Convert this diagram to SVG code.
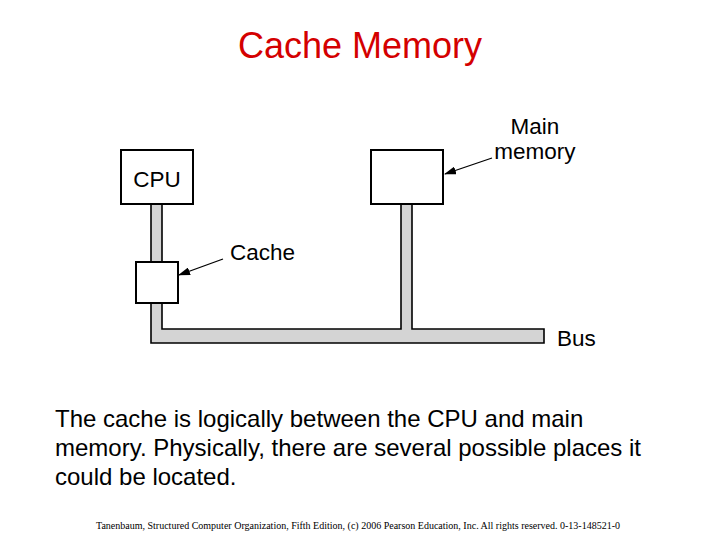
<svg xmlns="http://www.w3.org/2000/svg" width="720" height="540" viewBox="0 0 720 540">
<style>
.box{fill:#fff;stroke:#000;stroke-width:2}
.bus{fill:#d4d4d4;stroke:#000;stroke-width:1.6}
.lbl{font-family:"Liberation Sans",Arial,sans-serif;font-size:22.5px;fill:#000}
.arr{stroke:#000;stroke-width:1.3;fill:none}
.body{font-family:"Liberation Sans",Arial,sans-serif;font-size:24px;fill:#000}
</style>
<defs>
<marker id="ah" markerWidth="12" markerHeight="8" refX="11" refY="4" orient="auto" markerUnits="userSpaceOnUse">
<path d="M0,0 L12,4 L0,8 Z" fill="#000"/>
</marker>
</defs>
<rect width="720" height="540" fill="#fff"/>
<text x="360" y="58" text-anchor="middle" font-family="'Liberation Sans',Arial,sans-serif" font-size="36" fill="#d40000">Cache Memory</text>
<g id="connectors">
<path class="bus" d="M151,204 V343 H544 V329 H412 V204 H401 V329 H162 V204 Z"/>
<line class="arr" x1="223" y1="259" x2="179" y2="275" marker-end="url(#ah)"/>
<line class="arr" x1="492" y1="158" x2="445" y2="174" marker-end="url(#ah)"/>
</g>
<g id="cpu">
<rect class="box" x="121" y="150" width="72" height="54"/>
<text class="lbl" x="157" y="187" text-anchor="middle">CPU</text>
</g>
<g id="cache">
<rect class="box" x="136" y="262" width="42" height="41"/>
<text class="lbl" x="230" y="260">Cache</text>
</g>
<g id="main-memory">
<rect class="box" x="371" y="150" width="72" height="54"/>
<text class="lbl" x="535" y="134" text-anchor="middle">Main</text>
<text class="lbl" x="535" y="159" text-anchor="middle">memory</text>
</g>
<g id="bus">
<text class="lbl" x="557" y="346" font-size="23">Bus</text>
</g>
<text class="body" x="55" y="427">The cache is logically between the CPU and main</text>
<text class="body" x="55" y="456">memory. Physically, there are several possible places it</text>
<text class="body" x="55" y="485">could be located.</text>
<text x="358" y="529" text-anchor="middle" font-family="'Liberation Serif','Times New Roman',serif" font-size="10" fill="#000">Tanenbaum, Structured Computer Organization, Fifth Edition, (c) 2006 Pearson Education, Inc. All rights reserved. 0-13-148521-0</text>
</svg>
